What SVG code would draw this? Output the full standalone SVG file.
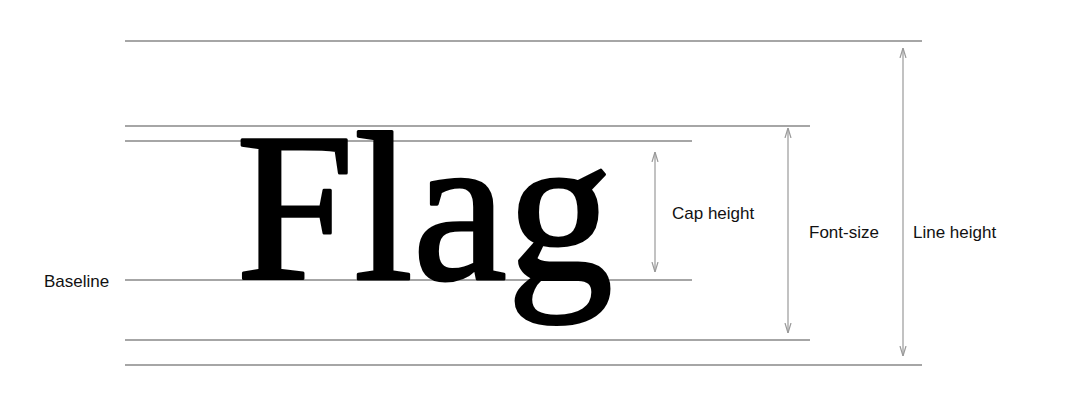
<svg xmlns="http://www.w3.org/2000/svg" width="1069" height="409" viewBox="0 0 1069 409">
<style>
.guide{stroke:#a6a6a6;stroke-width:2;fill:none}
.dim{stroke:#999;stroke-width:1.2;fill:none}
.lbl{font-family:"Liberation Sans",Arial,sans-serif;font-size:17px;fill:#111}
</style>
<defs>
<marker id="ah" viewBox="0 0 10 10" refX="10" refY="5" markerWidth="10" markerHeight="10" markerUnits="userSpaceOnUse" orient="auto-start-reverse">
<path d="M0,2 L10,5 L0,8" fill="none" stroke="#999" stroke-width="1.2"/>
</marker>
</defs>
<rect width="1069" height="409" fill="#fff"/>
<g id="guides">
<line class="guide" x1="125" y1="41" x2="922" y2="41"/>
<line class="guide" x1="125" y1="126" x2="810" y2="126"/>
<line class="guide" x1="125" y1="141" x2="692" y2="141"/>
<line class="guide" x1="125" y1="280" x2="692" y2="280"/>
<line class="guide" x1="125" y1="340" x2="810" y2="340"/>
<line class="guide" x1="125" y1="365" x2="922" y2="365"/>
</g>
<g id="flag">
<text x="236" y="279" font-family="'Liberation Serif','Times New Roman',serif" font-size="212" fill="#000" stroke="#000" stroke-width="3" stroke-linejoin="round">Flag</text>
</g>
<g id="connectors">
<line class="dim" x1="655" y1="152" x2="655" y2="272" marker-start="url(#ah)" marker-end="url(#ah)"/>
<line class="dim" x1="788" y1="128" x2="788" y2="333" marker-start="url(#ah)" marker-end="url(#ah)"/>
<line class="dim" x1="903" y1="48" x2="903" y2="356" marker-start="url(#ah)" marker-end="url(#ah)"/>
</g>
<g id="labels">
<text class="lbl" x="44" y="287">Baseline</text>
<text class="lbl" x="672" y="219">Cap height</text>
<text class="lbl" x="809" y="238">Font-size</text>
<text class="lbl" x="913" y="238">Line height</text>
</g>
</svg>
